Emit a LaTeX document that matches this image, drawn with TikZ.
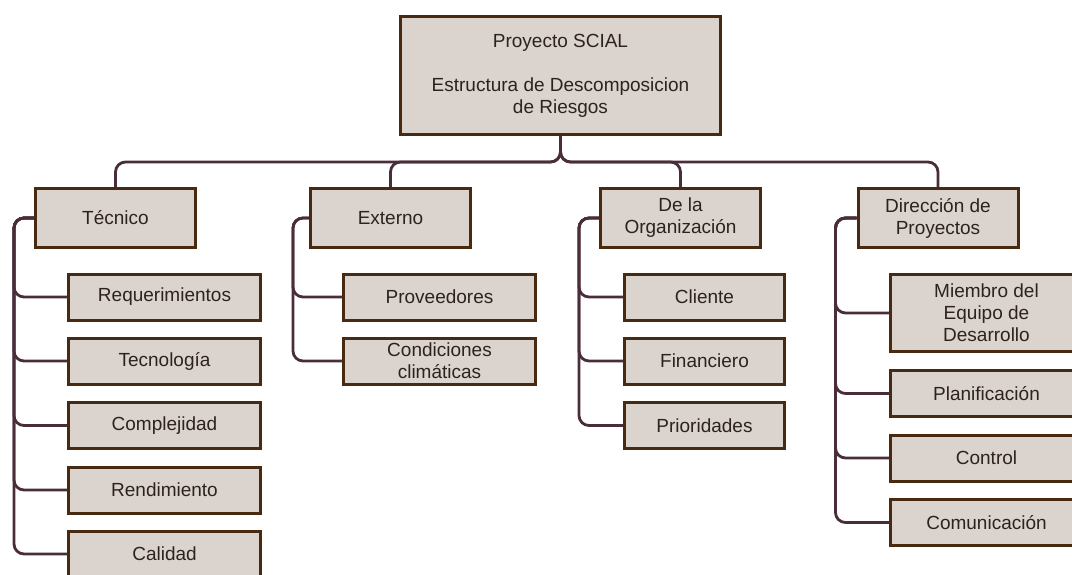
\documentclass[tikz,border=0pt]{standalone}
\usepackage{fontspec}
\setmainfont{Liberation Sans}

\definecolor{boxfill}{RGB}{218,211,206}
\definecolor{boxline}{RGB}{72,42,16}
\definecolor{linkcol}{RGB}{74,44,58}
\definecolor{textcol}{RGB}{45,34,30}

\tikzset{
  box/.style={draw=boxline,fill=boxfill,line width=3pt,text=textcol,
    align=center,inner sep=0pt,font=\fontsize{19}{22}\selectfont},
  topbox/.style={box,minimum width=160pt,minimum height=59pt},
  subbox/.style={box,minimum width=192pt,minimum height=46pt},
  link/.style={draw=linkcol,line width=2.8pt,rounded corners=10pt},
}

\begin{document}
\begin{tikzpicture}[x=1pt,y=-1pt]
      \useasboundingbox (0,0) rectangle (1072,574);
      \clip (0,0) rectangle (1072,574);

      \coordinate (bus) at (560.5,162);

      \node[box,minimum width=320pt,minimum height=118pt] (root) at (560.5,75.5)
        {Proyecto SCIAL\\[22pt]Estructura de Descomposicion\\de Riesgos};

      \node[topbox] (tec) at (115.5,218) {Técnico};
      \node[topbox] (ext) at (390.5,218) {Externo};
      \node[topbox] (org) at (680.5,218) {De la\\Organización};
      \node[topbox] (dir) at (938,218) {Dirección de\\Proyectos};

      \node[subbox] (req)   at (164.5,297) {Requerimientos};
      \node[subbox] (tecno) at (164.5,361) {Tecnología};
      \node[subbox] (compl) at (164.5,425.5) {Complejidad};
      \node[subbox] (rend)  at (164.5,490) {Rendimiento};
      \node[subbox] (cal)   at (164.5,554) {Calidad};

      \node[subbox] (prov)  at (439.5,297) {Proveedores};
      \node[subbox] (clima) at (439.5,361) {Condiciones\\climáticas};

      \node[subbox,minimum width=160pt] (cli)  at (704.5,297) {Cliente};
      \node[subbox,minimum width=160pt] (fin)  at (704.5,361) {Financiero};
      \node[subbox,minimum width=160pt] (prio) at (704.5,425.5) {Prioridades};

      \node[subbox,minimum height=77pt] (miem) at (986.5,313) {Miembro del\\Equipo de\\Desarrollo};
      \node[subbox] (plan) at (986.5,393.5) {Planificación};
      \node[subbox] (ctrl) at (986.5,458) {Control};
      \node[subbox] (com)  at (986.5,522.5) {Comunicación};

      % root to the four categories
      \foreach \n in {tec,ext,org,dir}
        \draw[link] (root.south) -- (bus) -| (\n.north);

      % categories to their risks
      \foreach \c in {req,tecno,compl,rend,cal}
        \draw[link] (tec.west) -- ++(-20,0) |- (\c.west);
      \foreach \c in {prov,clima}
        \draw[link] (ext.west) -- ++(-16,0) |- (\c.west);
      \foreach \c in {cli,fin,prio}
        \draw[link] (org.west) -- ++(-20,0) |- (\c.west);
      \foreach \c in {miem,plan,ctrl,com}
        \draw[link] (dir.west) -- ++(-21,0) |- (\c.west);
\end{tikzpicture}
\end{document}
